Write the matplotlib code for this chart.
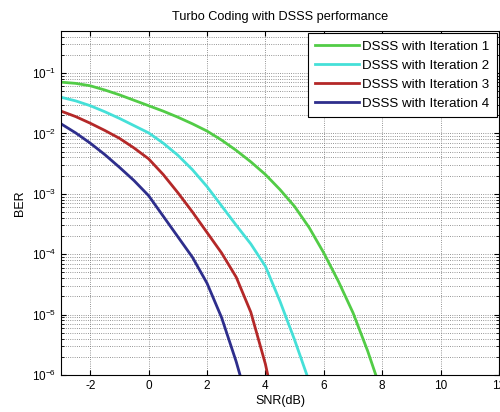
"""Turbo coding with DSSS: BER vs SNR for 4 decoder iterations."""

import matplotlib
matplotlib.use("Agg")
import matplotlib.pyplot as plt
import numpy as np


# values (BER given as log10)
snr_it1 = [-3, -2.5, -2, -1.5, -1, -0.5, 0, 0.5, 1, 1.5, 2, 2.5, 3, 3.5, 4,
           4.5, 5, 5.5, 6, 6.5, 7, 7.5, 7.78]
logber_it1 = [-1.15, -1.17, -1.21, -1.28, -1.36, -1.45, -1.54, -1.63, -1.73,
              -1.84, -1.96, -2.11, -2.28, -2.47, -2.68, -2.93, -3.21, -3.56,
              -3.98, -4.45, -4.97, -5.6, -6.0]

snr_it2 = [-3, -2.5, -2, -1.5, -1, -0.5, 0, 0.5, 1, 1.5, 2, 2.5, 3, 3.5, 4,
           4.5, 5, 5.42]
logber_it2 = [-1.40, -1.46, -1.54, -1.64, -1.75, -1.87, -1.99, -2.16, -2.36,
              -2.6, -2.88, -3.2, -3.52, -3.83, -4.2, -4.78, -5.42, -6.0]

snr_it3 = [-3, -2.5, -2, -1.5, -1, -0.5, 0, 0.5, 1, 1.5, 2, 2.5, 3, 3.5, 4, 4.08]
logber_it3 = [-1.63, -1.72, -1.83, -1.95, -2.08, -2.24, -2.42, -2.68, -2.98,
              -3.3, -3.64, -3.98, -4.38, -4.96, -5.82, -6.0]

snr_it4 = [-3, -2.5, -2, -1.5, -1, -0.5, 0, 0.5, 1, 1.5, 2, 2.5, 3, 3.13]
logber_it4 = [-1.84, -1.99, -2.16, -2.35, -2.56, -2.78, -3.03, -3.37, -3.71,
              -4.05, -4.48, -5.05, -5.78, -6.0]

labels = ["DSSS with Iteration 1", "DSSS with Iteration 2",
          "DSSS with Iteration 3", "DSSS with Iteration 4"]
colors = ["#52cc46", "#45e0d8", "#b42828", "#2e2e8c"]

plt.rcParams["font.family"] = ["Liberation Sans", "DejaVu Sans"]
plt.rcParams["axes.unicode_minus"] = False

fig = plt.figure(figsize=(5.0, 4.12), dpi=100)
ax = fig.add_axes([0.122, 0.09, 0.876, 0.835])

series = [(snr_it1, logber_it1), (snr_it2, logber_it2),
          (snr_it3, logber_it3), (snr_it4, logber_it4)]
for (snr, lb), lab, col in zip(series, labels, colors):
    ax.semilogy(snr, 10 ** np.array(lb), color=col, lw=2.0, label=lab)

ax.set_xlim(-3, 12)
ax.set_ylim(1e-6, 0.5)
ax.set_xticks(range(-2, 13, 2))

ax.grid(True, which="major", linestyle=":", color="0.45", lw=0.6)
ax.grid(True, which="minor", axis="y", linestyle=":", color="0.45", lw=0.6)
ax.tick_params(which="both", direction="in", top=True, right=True, labelsize=8.5)
for s in ax.spines.values():
    s.set_linewidth(0.8)

ax.set_title("Turbo Coding with DSSS performance", fontsize=9.2, pad=8)
ax.set_xlabel("SNR(dB)", fontsize=9, labelpad=2)
ax.set_ylabel("BER", fontsize=9)

leg = ax.legend(loc="upper right", fontsize=9.6, handlelength=3.3,
                handletextpad=0.25, labelspacing=0.5, borderaxespad=0.15,
                fancybox=False, framealpha=1, edgecolor="black", borderpad=0.55)
leg.get_frame().set_linewidth(0.8)

fig.savefig("out.png", dpi=100)
